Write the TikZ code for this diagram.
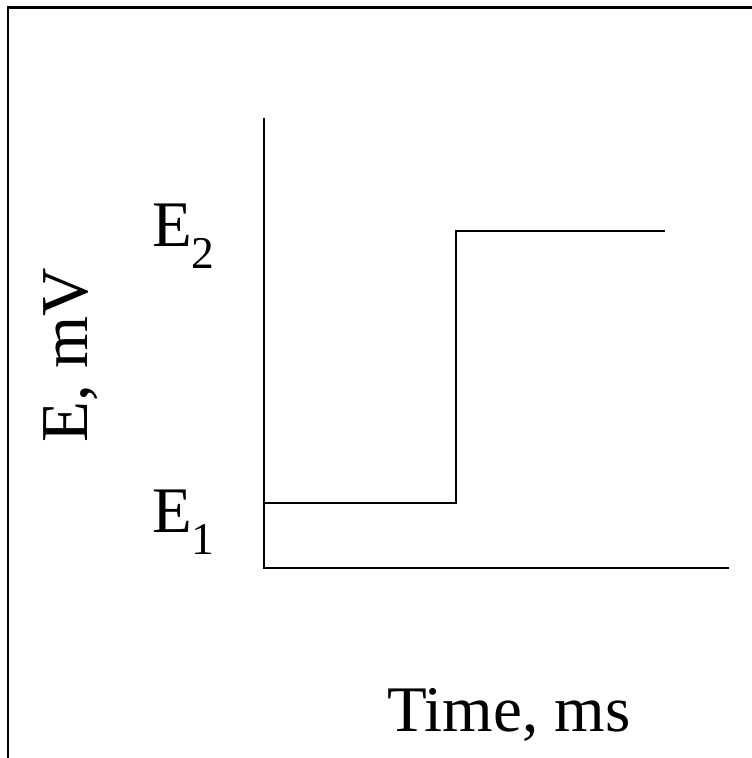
\documentclass[tikz,border=0pt]{standalone}
\usepackage{fontspec}
\setmainfont{Liberation Serif}
\usetikzlibrary{positioning}

\begin{document}
\begin{tikzpicture}[x=1pt,y=1pt,font=\fontsize{65}{72}\selectfont,
  lbl/.style={inner sep=0pt},
  ax/.style={line width=2.2pt}]
\useasboundingbox (0,0) rectangle (752,758);
% frame, cut at the right and the bottom
\coordinate (fb) at (8,0);
\coordinate (fc) at (8,750.5);
\coordinate (fr) at (752,750.5);
\draw[line width=2.8pt] (fb) -- (fc) -- (fr);
% axes
\coordinate (o) at (264,190);
\coordinate (ytop) at (264,640);
\coordinate (xend) at (729,190);
\draw[ax] (ytop) -- (o) -- (xend);
% step
\coordinate (s0) at (264,255);
\coordinate (s1) at (456,255);
\coordinate (s2) at (456,527);
\coordinate (s3) at (665,527);
\draw[ax] (s0) -- (s1) -- (s2) -- (s3);
% labels
\node (e2) [lbl,anchor=base west] at (152,511) {E\textsubscript{2}};
\node (e1) [lbl,anchor=base west] at (152,225) {E\textsubscript{1}};
\node (ylab) [lbl,anchor=base west,rotate=90,font=\fontsize{67}{72}\selectfont] at (87,315) {E, mV};
\node (xlab) [lbl,anchor=base west] at (387,27) {Time, ms};
\end{tikzpicture}
\end{document}
